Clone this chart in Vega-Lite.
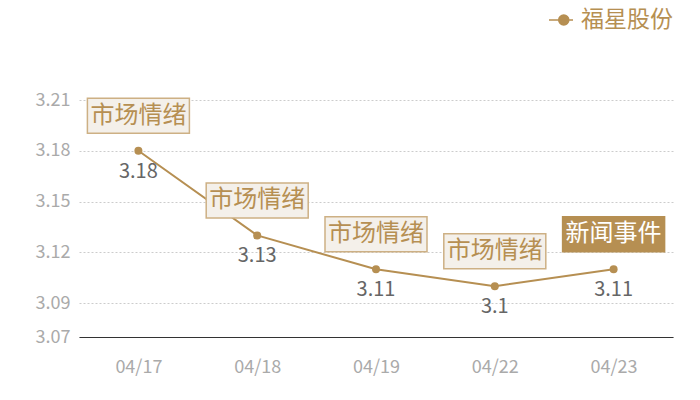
{
  "$schema": "https://vega.github.io/schema/vega-lite/v6.json",
  "autosize": {"type": "none"},
  "width": 594,
  "height": 237,
  "padding": {"left": 79, "top": 100, "right": 27, "bottom": 63},
  "config": {
    "view": {"stroke": null},
    "font": "Noto Sans CJK SC"
  },
  "data": {
    "values": [
      {"date": "04/17", "value": 3.18, "label": "3.18", "tag": "市场情绪", "kind": "market", "series": "福星股份"},
      {"date": "04/18", "value": 3.13, "label": "3.13", "tag": "市场情绪", "kind": "market", "series": "福星股份"},
      {"date": "04/19", "value": 3.11, "label": "3.11", "tag": "市场情绪", "kind": "market", "series": "福星股份"},
      {"date": "04/22", "value": 3.10, "label": "3.1", "tag": "市场情绪", "kind": "market", "series": "福星股份"},
      {"date": "04/23", "value": 3.11, "label": "3.11", "tag": "新闻事件", "kind": "news", "series": "福星股份"}
    ]
  },
  "encoding": {
    "x": {
      "field": "date",
      "type": "ordinal",
      "sort": null,
      "scale": {"type": "point", "padding": 0.5},
      "title": null,
      "axis": {
        "labelAngle": 0,
        "ticks": false,
        "domainColor": "#333333",
        "domainWidth": 1,
        "labelColor": "#aaaaaa",
        "labelFontSize": 18,
        "labelPadding": 21
      }
    },
    "y": {
      "field": "value",
      "type": "quantitative",
      "scale": {"domain": [3.07, 3.21], "zero": false, "nice": false},
      "title": null,
      "axis": {
        "values": [3.07, 3.09, 3.12, 3.15, 3.18, 3.21],
        "domain": false,
        "ticks": false,
        "labelColor": "#aaaaaa",
        "labelFontSize": 18,
        "labelPadding": 9,
        "gridColor": "#cccccc",
        "gridDash": [2, 2],
        "gridWidth": 1
      }
    }
  },
  "layer": [
    {
      "mark": {"type": "line", "strokeWidth": 2},
      "encoding": {
        "color": {
          "field": "series",
          "type": "nominal",
          "scale": {"range": ["#b68f52"]},
          "legend": {
            "title": null,
            "orient": "none",
            "legendX": 469,
            "legendY": -93,
            "padding": 0,
            "symbolType": "M-1,0H1M0.65,0A0.42,0.42,0,1,1,-0.19,0A0.42,0.42,0,1,1,0.65,0",
            "symbolSize": 576,
            "symbolStrokeWidth": 1.5,
            "labelFontSize": 23,
            "labelColor": "#b68f52",
            "labelOffset": 7,
            "encode": {
              "symbols": {
                "update": {
                  "fill": {"value": "#b68f52"},
                  "stroke": {"value": "#b68f52"}
                }
              }
            }
          }
        }
      }
    },
    {
      "mark": {"type": "point", "filled": true, "size": 64, "opacity": 1, "fill": "#b68f52", "stroke": null}
    },
    {
      "mark": {"type": "text", "dy": 21, "fontSize": 20, "fill": "#666666"},
      "encoding": {"text": {"field": "label"}}
    },
    {
      "mark": {
        "type": "point",
        "shape": "M-1,-0.343H1V0.343H-1Z",
        "size": 10404,
        "yOffset": -35,
        "opacity": 1,
        "strokeWidth": 1.5
      },
      "encoding": {
        "fill": {
          "condition": {"test": "datum.kind === 'news'", "value": "#b68f52"},
          "value": "#f4f0ea"
        },
        "stroke": {
          "condition": {"test": "datum.kind === 'news'", "value": "#b68f52"},
          "value": "#cdb084"
        }
      }
    },
    {
      "mark": {"type": "text", "yOffset": -35, "fontSize": 24, "baseline": "middle"},
      "encoding": {
        "text": {"field": "tag"},
        "fill": {
          "condition": {"test": "datum.kind === 'news'", "value": "#ffffff"},
          "value": "#b68f52"
        }
      }
    }
  ]
}
